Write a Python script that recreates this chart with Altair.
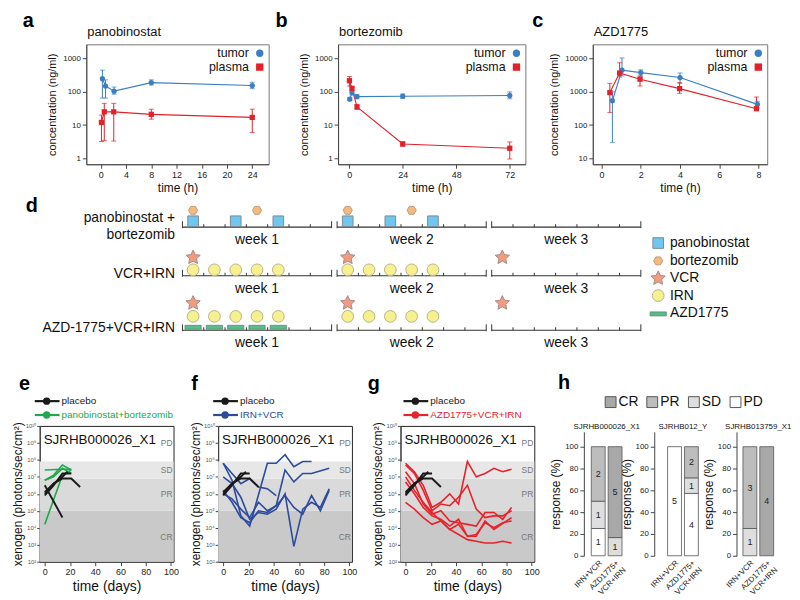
import math
import altair as alt
import pandas as pd

FONT = "Liberation Sans"
BLUE = "#3b7fc3"
RED = "#e3212b"

# ---------------- panels a-c : pharmacokinetics ----------------
pano_tumor_time = [0.25, 0.75, 2.1, 8, 24]
pano_tumor_conc = [250, 150, 105, 190, 155]
pano_tumor_low = [65, 65, 85, 160, 125]
pano_tumor_high = [450, 230, 140, 230, 195]
pano_plasma_time = [0.1, 0.55, 2.05, 8, 24]
pano_plasma_conc = [12, 25, 25, 21, 17]
pano_plasma_low = [3.2, 3.4, 3.3, 15, 6]
pano_plasma_high = [20, 45, 45, 30, 30]

bort_tumor_time = [0.25, 1.25, 3.5, 24, 72]
bort_tumor_conc = [60, 95, 72, 74, 78]
bort_tumor_low = [55, 80, 62, 63, 62]
bort_tumor_high = [68, 110, 82, 86, 100]
bort_plasma_time = [0.1, 1.25, 3.5, 24, 72]
bort_plasma_conc = [217, 128, 35, 2.7, 2.0]
bort_plasma_low = [150, 110, 30, 2.3, 0.95]
bort_plasma_high = [290, 140, 42, 3.1, 3.1]

azd_tumor_time = [0.55, 1.04, 2.0, 4.0, 7.95]
azd_tumor_conc = [540, 4500, 3800, 2700, 420]
azd_tumor_low = [30, 3000, 3000, 1800, 330]
azd_tumor_high = [1000, 10500, 4600, 3700, 520]
azd_plasma_time = [0.42, 0.92, 1.96, 3.98, 7.9]
azd_plasma_conc = [950, 3700, 2400, 1250, 310]
azd_plasma_low = [240, 2800, 1500, 900, 290]
azd_plasma_high = [1800, 7500, 3000, 1900, 700]

pk_groups = ["tumor", "plasma"]

# ---------------- panel d : schedules (1-based day of 21) ----------------
sched_row_labels = [["panobinostat +", "bortezomib"], ["VCR+IRN"], ["AZD-1775+VCR+IRN"]]
week_labels = ["week 1", "week 2", "week 3"]
pb_panobinostat_days = [1, 3, 5, 8, 10, 12]
pb_bortezomib_days = [1, 4, 8, 11]
vi_vcr_days = [1, 8, 15]
vi_irn_days = [1, 2, 3, 4, 5, 8, 9, 10, 11, 12]
avi_vcr_days = [1, 8, 15]
avi_irn_days = [1, 2, 3, 4, 5, 8, 9, 10, 11, 12]
avi_azd_days = [1, 2, 3, 4, 5]
drug_legend = ["panobinostat", "bortezomib", "VCR", "IRN", "AZD1775"]

# ---------------- panels e-g : xenogen signal (log10 photons/sec/cm2) ----------------
model_name = "SJRHB000026_X1"
placebo_days = [[0, 7, 14, 21], [0, 7, 14, 21, 28], [0, 7, 14, 18], [0, 14]]
placebo_log = [[5.9, 6.5, 7.2, 7.2], [6.1, 6.6, 6.9, 6.9, 6.4], [6.0, 6.6, 7.0, 7.3], [6.5, 4.6]]

pb_days = [[0, 14, 21], [0, 7, 14, 21], [0, 14, 21], [0, 7, 14, 21]]
pb_log = [[4.2, 7.1, 7.4], [6.8, 7.1, 7.7, 7.4], [7.4, 7.45, 7.45], [6.8, 7.0, 7.5, 7.2]]

iv_days = [[0, 7, 14, 21, 28, 35, 42],
           [0, 7, 14, 21, 35, 42, 49, 56, 63, 70],
           [0, 7, 14, 21, 28, 35, 42, 49, 56, 63, 70, 77, 84],
           [0, 7, 14, 21, 28, 35, 42, 49, 56, 63, 70, 84],
           [0, 7, 14, 21, 28, 35, 42, 49, 56, 63, 70, 77, 84]]
iv_log = [[7.8, 7.2, 6.6, 6.9, 6.4, 6.3, 5.9],
          [7.8, 6.8, 4.7, 4.1, 7.8, 7.8, 8.3, 7.6, 7.9, 7.9],
          [7.0, 6.6, 5.8, 4.5, 4.9, 4.8, 5.1, 6.0, 2.9, 5.1, 5.5, 5.2, 6.3],
          [6.2, 5.5, 4.6, 4.3, 5.0, 4.9, 5.3, 7.4, 6.7, 7.2, 7.2, 7.5],
          [6.0, 5.7, 5.1, 4.6, 5.5, 5.0, 5.3, 5.9, 5.2, 4.8, 5.9, 5.0, 6.2]]

avi_days = [[0, 7, 14, 21, 28, 35, 42, 49, 56, 63, 70, 77, 84]] * 5 + [[0, 7, 14, 21, 28, 35, 42, 49, 56, 63, 70, 84]]
avi_log = [[7.8, 7.3, 6.5, 5.2, 5.5, 6.0, 5.4, 7.9, 7.0, 7.2, 7.5, 7.3, 7.45],
           [7.7, 7.2, 6.2, 5.0, 5.4, 5.3, 5.8, 6.5, 5.1, 4.6, 4.7, 4.7, 5.0],
           [7.3, 6.6, 5.4, 4.8, 5.0, 4.4, 4.3, 4.2, 4.1, 4.9, 4.9, 4.5, 5.2],
           [5.5, 5.1, 4.6, 4.2, 4.4, 3.9, 4.2, 3.5, 3.6, 4.3, 4.0, 4.3, 4.4],
           [7.0, 6.2, 5.5, 4.9, 4.4, 3.9, 3.6, 3.3, 3.2, 3.1, 3.1, 3.2, 3.1],
           [6.7, 6.0, 5.2, 4.7, 4.5, 4.1, 4.5, 3.5, 3.5, 4.4, 3.9, 4.6]]

band_names = ["CR", "PR", "SD"]
band_low = [1e2, 1e5, 8e6]
band_high = [1e5, 8e6, 8e7]
band_label_names = ["PD", "SD", "PR", "CR"]
band_label_at = [1e9, 2.5e7, 1e6, 3e3]

# ---------------- panel h : responses (counts in order CR, PR, SD, PD) ----------------
resp_categories = ["CR", "PR", "SD", "PD"]
resp_models = ["SJRHB000026_X1", "SJRHB012_Y", "SJRHB013759_X1"]
resp_treatments = ["IRN+VCR", "AZD1775+VCR+IRN"]
resp_irn_vcr = [[0, 2, 1, 1], [0, 0, 0, 5], [0, 3, 1, 0]]
resp_azd = [[5, 0, 1, 0], [0, 2, 1, 4], [4, 0, 0, 0]]

ONE = pd.DataFrame({"k": [0]})
LETTER_SIZE = 20


def const_text(s, x, y, **kw):
    return alt.Chart(pd.DataFrame({"s": [s]})).mark_text(font=FONT, **kw).encode(
        text="s:N", x=alt.value(x), y=alt.value(y))


def letter(ch, x, y, baseline="alphabetic"):
    return const_text(ch, x, y, align="left", baseline=baseline, fontSize=LETTER_SIZE,
                      fontWeight="bold", color="black")


def spacer(w):
    return alt.Chart(ONE).mark_point(opacity=0, size=1).encode(
        x=alt.value(0), y=alt.value(0)).properties(width=w, height=1, view={"stroke": None})


# ======================= a-c =======================
def pk_chart(let, let_x, title, series, xdom, xticks, ydom, yticks, w, h=121):
    frames = []
    for grp, (t, v, lo, hi) in zip(pk_groups, series):
        frames.append(pd.DataFrame({"group": grp, "t": t, "v": v, "lo": lo, "hi": hi}))
    df = pd.concat(frames, ignore_index=True)
    xs = alt.Scale(domain=xdom, nice=False, zero=False)
    ys = alt.Scale(type="log", domain=ydom, nice=False)

    def X(f):
        return alt.X(f"{f}:Q", scale=xs, axis=alt.Axis(values=xticks, title="time (h)", grid=False, format="d",
                                                      labelFontSize=9, titleFontSize=12, tickSize=4,
                                                      titlePadding=3))

    def Y(f):
        return alt.Y(f"{f}:Q", scale=ys, axis=alt.Axis(values=yticks, title="concentration (ng/ml)", grid=False,
                                                      format="d", labelFontSize=8, titleFontSize=11,
                                                      tickSize=4, titlePadding=5))

    C = alt.Color("group:N", scale=alt.Scale(domain=pk_groups, range=[BLUE, RED]), legend=None)
    S = alt.Shape("group:N", scale=alt.Scale(domain=pk_groups, range=["circle", "square"]), legend=None)
    base = alt.Chart(df)
    layers = [
        base.mark_rule(strokeWidth=1).encode(x=X("t"), y=Y("lo"), y2="hi:Q", color=C),
        base.mark_tick(orient="horizontal", size=5, thickness=1).encode(x=X("t"), y=Y("lo"), color=C),
        base.mark_tick(orient="horizontal", size=5, thickness=1).encode(x=X("t"), y=Y("hi"), color=C),
        base.mark_line(strokeWidth=1.1).encode(x=X("t"), y=Y("v"), color=C),
        base.mark_point(filled=True, size=28, opacity=1).encode(x=X("t"), y=Y("v"), color=C, shape=S),
    ]
    for i, (lab, col, shp) in enumerate(zip(pk_groups, [BLUE, RED], ["circle", "square"])):
        layers.append(const_text(lab, w - 20, 9 + 14 * i, align="right", baseline="middle",
                                 fontSize=12.5, color="#111"))
        layers.append(alt.Chart(ONE).mark_point(shape=shp, filled=True, color=col, size=55, opacity=1)
                      .encode(x=alt.value(w - 9), y=alt.value(9 + 14 * i)))
    layers.append(const_text(title, 1, -8, align="left", baseline="alphabetic", fontSize=13, color="#111"))
    layers.append(letter(let, let_x, -33, baseline="top"))
    return alt.layer(*layers).properties(width=w, height=h, view={"stroke": "#777", "strokeWidth": 1})


pa = pk_chart("a", -64, "panobinostat",
              [(pano_tumor_time, pano_tumor_conc, pano_tumor_low, pano_tumor_high),
               (pano_plasma_time, pano_plasma_conc, pano_plasma_low, pano_plasma_high)],
              [-2.3, 26.6], [0, 4, 8, 12, 16, 20, 24], [0.66, 2700], [1, 10, 100, 1000], 184)
pb = pk_chart("b", -63, "bortezomib",
              [(bort_tumor_time, bort_tumor_conc, bort_tumor_low, bort_tumor_high),
               (bort_plasma_time, bort_plasma_conc, bort_plasma_low, bort_plasma_high)],
              [-5, 79], [0, 24, 48, 72], [0.66, 2700], [1, 10, 100, 1000], 189)
pc = pk_chart("c", -61, "AZD1775",
              [(azd_tumor_time, azd_tumor_conc, azd_tumor_low, azd_tumor_high),
               (azd_plasma_time, azd_plasma_conc, azd_plasma_low, azd_plasma_high)],
              [-0.45, 8.45], [0, 2, 4, 6, 8], [6.6, 27000], [10, 100, 1000, 10000], 176)
row1 = alt.hconcat(spacer(8), pa, pb, pc, spacing=5).resolve_scale(color="independent", shape="independent")

# ======================= d =======================
DAY_PX = 21.5
WEEK_GAP = 0.256
D_W = 780
D_TOP = 194.5
D_H = 181
W1_X = 183
d_x0 = -(W1_X - 8) / DAY_PX
d_x1 = d_x0 + D_W / DAY_PX
DXS = alt.Scale(domain=[d_x0, d_x1], nice=False, zero=False)
DYS = alt.Scale(domain=[0, D_H], nice=False, zero=False, reverse=True)


def DX(f):
    return alt.X(f"{f}:Q", scale=DXS, axis=None)


def DY(f):
    return alt.Y(f"{f}:Q", scale=DYS, axis=None)


def wstart(w):
    return w * (7 + WEEK_GAP)


def dayx(day):
    w, k = divmod(day - 1, 7)
    return wstart(w) + k + 0.5


def loc(page_y):
    return page_y - D_TOP


row_base = [loc(228), loc(277), loc(332)]


def star_path(n=5, r_in=0.48):
    pts = []
    for i in range(2 * n):
        r = 1.0 if i % 2 == 0 else r_in
        a = -math.pi / 2 + i * math.pi / n
        pts.append((r * math.cos(a), r * math.sin(a) + 0.08))
    return "M" + " L".join(f"{x:.3f},{y:.3f}" for x, y in pts) + " Z"


def hex_path():
    pts = [(math.cos(math.pi / 3 * i), math.sin(math.pi / 3 * i)) for i in range(6)]
    return "M" + " L".join(f"{x:.3f},{y:.3f}" for x, y in pts) + " Z"


STAR = star_path()
HEX = hex_path()
SYM = {
    "panobinostat": dict(shape="square", fill="#6fc7ef", stroke="#7d8a96", size=115),
    "bortezomib": dict(shape=HEX, fill="#f5b97c", stroke="#b99b80", size=85),
    "VCR": dict(shape=STAR, fill="#f29b80", stroke="#a88c84", size=230),
    "IRN": dict(shape="circle", fill="#f7f08e", stroke="#b8b38c", size=140),
}

sym_rows = []
for d in pb_panobinostat_days:
    sym_rows.append(dict(kind="panobinostat", x=dayx(d), y=row_base[0] - 6))
for d in pb_bortezomib_days:
    sym_rows.append(dict(kind="bortezomib", x=dayx(d), y=row_base[0] - 17))
for d in vi_vcr_days:
    sym_rows.append(dict(kind="VCR", x=dayx(d), y=row_base[1] - 19))
for d in vi_irn_days:
    sym_rows.append(dict(kind="IRN", x=dayx(d), y=row_base[1] - 6))
for d in avi_vcr_days:
    sym_rows.append(dict(kind="VCR", x=dayx(d), y=row_base[2] - 28))
for d in avi_irn_days:
    sym_rows.append(dict(kind="IRN", x=dayx(d), y=row_base[2] - 14))
leg_x = (663 - W1_X) / DAY_PX
leg_y = [loc(244), loc(262), loc(279), loc(297), loc(315)]
for name, yy in zip(drug_legend[:4], leg_y[:4]):
    sym_rows.append(dict(kind=name, x=leg_x, y=yy))
sym_df = pd.DataFrame(sym_rows)

d_layers = []
base_rows, tick_rows = [], []
for rb in row_base:
    for w in range(3):
        base_rows.append(dict(x0=wstart(w), x1=wstart(w) + 7, y=rb))
        for k in range(8):
            top = rb - 6 if k in (0, 7) else rb - 3
            tick_rows.append(dict(x=wstart(w) + k, y0=top, y1=rb + (1 if k in (0, 7) else 0)))
d_layers.append(alt.Chart(pd.DataFrame(base_rows)).mark_rule(color="#333", strokeWidth=1.2)
                .encode(x=DX("x0"), x2="x1:Q", y=DY("y")))
d_layers.append(alt.Chart(pd.DataFrame(tick_rows)).mark_rule(color="#333", strokeWidth=1)
                .encode(x=DX("x"), y=DY("y0"), y2="y1:Q"))
bar_rows = [dict(x0=dayx(d) - 0.38, x1=dayx(d) + 0.38, y0=row_base[2] - 5, y1=row_base[2] - 1)
            for d in avi_azd_days]
bar_rows.append(dict(x0=leg_x - 0.38, x1=leg_x + 0.38, y0=leg_y[4] - 1.5, y1=leg_y[4] + 2.5))
d_layers.append(alt.Chart(pd.DataFrame(bar_rows)).mark_rect(fill="#5fb98d", stroke="#4e8d6d", strokeWidth=0.8)
                .encode(x=DX("x0"), x2="x1:Q", y=DY("y0"), y2="y1:Q"))
for kind, st in SYM.items():
    d_layers.append(alt.Chart(sym_df[sym_df.kind == kind]).mark_point(
        shape=st["shape"], filled=True, fill=st["fill"], stroke=st["stroke"], strokeWidth=1,
        size=st["size"], opacity=1).encode(x=DX("x"), y=DY("y")))
txt_rows = []
for i, rb in enumerate(row_base):
    for w in range(3):
        txt_rows.append(dict(s=week_labels[w], x=wstart(w) + 3.5, y=rb + 13, a="center"))
txt_rows.append(dict(s=sched_row_labels[0][0], x=-0.35, y=loc(219), a="right"))
txt_rows.append(dict(s=sched_row_labels[0][1], x=-0.35, y=loc(236), a="right"))
txt_rows.append(dict(s=sched_row_labels[1][0], x=-0.35, y=row_base[1] - 2, a="right"))
txt_rows.append(dict(s=sched_row_labels[2][0], x=-0.35, y=row_base[2] - 2, a="right"))
for name, yy in zip(drug_legend, leg_y):
    txt_rows.append(dict(s=name, x=leg_x + 0.55, y=yy, a="left"))
txt_df = pd.DataFrame(txt_rows)
for al in ["left", "center", "right"]:
    d_layers.append(alt.Chart(txt_df[txt_df.a == al]).mark_text(
        font=FONT, fontSize=14, align=al, baseline="middle", color="#111")
        .encode(x=DX("x"), y=DY("y"), text="s:N"))
d_layers.append(letter("d", 17, loc(213)))
panel_d = alt.layer(*d_layers).properties(width=D_W, height=D_H, view={"stroke": None})

# ======================= e-g =======================
XENO_W = 135
XENO_H = 137
XS = alt.Scale(domain=[-4, 102], nice=False, zero=False)
YS = alt.Scale(type="log", domain=[1e2, 1e10], nice=False)
SUP = ["10²", "10³", "10⁴", "10⁵", "10⁶", "10⁷", "10⁸", "10⁹", "10¹⁰"]
LABEL_EXPR = "[" + ",".join(f"'{s}'" for s in SUP) + "][round(log(datum.value)/LN10) - 2]"


def XX(f):
    return alt.X(f"{f}:Q", scale=XS, axis=alt.Axis(values=[0, 20, 40, 60, 80, 100], title="time (days)",
                                                  grid=False, labelFontSize=9, titleFontSize=14, tickSize=4,
                                                  titlePadding=3))


def XY(f):
    return alt.Y(f"{f}:Q", scale=YS, axis=alt.Axis(values=[10 ** k for k in range(2, 11)], labelExpr=LABEL_EXPR,
                                                  title="xenogen (photons/sec/cm²)", grid=False, labelFontSize=6,
                                                  labelColor="#555", titleFontSize=12, tickSize=3,
                                                  labelPadding=1, titlePadding=1))


BAND_COL = {"CR": "#c9c9c9", "PR": "#dadada", "SD": "#e7e7e7"}


def xeno_chart(let, let_x, treat, tcol, tdays, tlogs, n_placebo, leg_x0):
    rows = []
    for i, (ds, ls) in enumerate(zip(tdays, tlogs)):
        for d, l in zip(ds, ls):
            rows.append(dict(id=f"t{i}", group=treat, day=d, flux=10 ** l))
    for i, (ds, ls) in enumerate(zip(placebo_days[:n_placebo], placebo_log[:n_placebo])):
        for d, l in zip(ds, ls):
            rows.append(dict(id=f"p{i}", group="placebo", day=d, flux=10 ** l))
    df = pd.DataFrame(rows)
    C = alt.Color("group:N", scale=alt.Scale(domain=["placebo", treat], range=["#1a1a1a", tcol]), legend=None)
    bands = pd.DataFrame({"band": band_names, "lo": band_low, "hi": band_high})
    layers = []
    for b in band_names:
        layers.append(alt.Chart(bands[bands.band == b]).mark_rect(color=BAND_COL[b]).encode(
            x=alt.value(0), x2=alt.value(XENO_W), y=XY("lo"), y2="hi:Q"))
    layers.append(alt.Chart(pd.DataFrame({"s": band_label_names, "pos": band_label_at})).mark_text(
        font=FONT, fontSize=8.5, align="right", baseline="middle", color="#777").encode(
        x=alt.value(XENO_W - 1), y=XY("pos"), text="s:N"))
    layers.append(alt.Chart(df[df.group == treat]).mark_line(strokeWidth=1.6).encode(
        x=XX("day"), y=XY("flux"), detail="id:N", color=C))
    layers.append(alt.Chart(df[df.group == "placebo"]).mark_line(strokeWidth=1.9).encode(
        x=XX("day"), y=XY("flux"), detail="id:N", color=C))
    layers.append(const_text(model_name, 4, 14, align="left", baseline="middle", fontSize=13.5, color="#111"))
    for i, (lab, col) in enumerate([("placebo", "#1a1a1a"), (treat, tcol)]):
        yv = -25 + 14 * i
        layers.append(alt.Chart(ONE).mark_rule(color=col, strokeWidth=2.2).encode(
            x=alt.value(leg_x0), x2=alt.value(leg_x0 + 25), y=alt.value(yv)))
        layers.append(alt.Chart(ONE).mark_circle(color=col, size=55, opacity=1).encode(
            x=alt.value(leg_x0 + 12), y=alt.value(yv)))
        layers.append(const_text(lab, leg_x0 + 27, yv, align="left", baseline="middle", fontSize=10, color=col))
    layers.append(letter(let, let_x, -36))
    return alt.layer(*layers).properties(width=XENO_W, height=XENO_H,
                                         view={"stroke": "#222", "strokeWidth": 1})


pe = xeno_chart("e", -21, "panobinostat+bortezomib", "#22a84c", pb_days, pb_log, 4, -5)
pf = xeno_chart("f", -27, "IRN+VCR", "#2c4b9d", iv_days, iv_log, 3, -5)
pg = xeno_chart("g", -33, "AZD1775+VCR+IRN", "#e8222b", avi_days, avi_log, 3, 3)

# ======================= h =======================
RESP_SCALE = alt.Scale(domain=resp_categories, range=["#a8a8a8", "#bdbdbd", "#dedede", "#ffffff"])
STACK_ORDER = ["PD", "SD", "PR", "CR"]
H_WIDTHS = [46, 58, 44]
H_SPACING = 25
H_H = 125
BAR_STEP = 17
LAB_EXPR = f"datum.value == '{resp_treatments[1]}' ? ['AZD1775+', 'VCR+IRN'] : datum.value"


def resp_chart(irn, azd, w):
    rows = []
    for treat, counts in zip(resp_treatments, [irn, azd]):
        total = sum(counts)
        y0 = 0.0
        for cat in STACK_ORDER:
            n = counts[resp_categories.index(cat)]
            if n == 0:
                continue
            pct = 100.0 * n / total
            rows.append(dict(treat=treat, cat=cat, n=n, y0=y0, y1=y0 + pct, mid=y0 + pct / 2))
            y0 += pct
    df = pd.DataFrame(rows)
    p_in = 3 / BAR_STEP
    p_out = (w / BAR_STEP - (2 - p_in)) / 2
    X = alt.X("treat:N", sort=resp_treatments,
              scale=alt.Scale(domain=resp_treatments, paddingInner=p_in, paddingOuter=p_out),
              axis=alt.Axis(title=None, labelAngle=315, labelExpr=LAB_EXPR, labelFontSize=8, ticks=False,
                            domain=False, labelPadding=3, labelColor="#222"))

    def Y(f):
        return alt.Y(f"{f}:Q", scale=alt.Scale(domain=[0, 113.6], nice=False, zero=True),
                     axis=alt.Axis(values=[0, 20, 40, 60, 80, 100], title="response (%)", grid=False,
                                   labelFontSize=8, titleFontSize=12, tickSize=4, titlePadding=2))

    bars = alt.Chart(df).mark_bar(stroke="#555", strokeWidth=0.8).encode(
        x=X, y=Y("y0"), y2="y1:Q", color=alt.Color("cat:N", scale=RESP_SCALE, legend=None))
    txt = alt.Chart(df).mark_text(font=FONT, fontSize=9, color="#222").encode(
        x=X, y=Y("mid"), text="n:Q")
    return alt.layer(bars, txt).properties(width=w, height=H_H, view={"stroke": None})


h_subs = [resp_chart(a, b, w) for a, b, w in zip(resp_irn_vcr, resp_azd, H_WIDTHS)]
h_bars = alt.hconcat(*h_subs, spacing=H_SPACING, bounds="flush").resolve_scale(color="independent")

h_origins = [0, H_WIDTHS[0] + H_SPACING, H_WIDTHS[0] + H_WIDTHS[1] + 2 * H_SPACING]
HL_H = 6
hl_layers = [letter("h", -26, -37)]
leg_df = pd.DataFrame({"cat": resp_categories, "idx": [0, 1, 2, 3]})
HL_STEP = 42
HL_X0 = 27
HLX = alt.X("idx:Q", scale=alt.Scale(domain=[-HL_X0 / HL_STEP, (H_WIDTHS[0] - HL_X0) / HL_STEP],
                                      nice=False, zero=False), axis=None)
hl_layers.append(alt.Chart(leg_df).mark_square(size=120, stroke="#555", strokeWidth=1, opacity=1).encode(
    x=HLX, y=alt.value(-24), color=alt.Color("cat:N", scale=RESP_SCALE, legend=None)))
hl_layers.append(alt.Chart(leg_df).mark_text(font=FONT, fontSize=14, align="left", baseline="middle", dx=8,
                                             color="#111").encode(x=HLX, y=alt.value(-24), text="cat:N"))
for m, o, w in zip(resp_models, h_origins, H_WIDTHS):
    hl_layers.append(const_text(m, o + w / 2, 3, align="center", baseline="alphabetic", fontSize=8,
                                color="#111"))
h_head = alt.layer(*hl_layers).properties(width=H_WIDTHS[0], height=HL_H, view={"stroke": None})

h_block = alt.vconcat(h_head, h_bars, spacing=0).resolve_scale(color="independent")

inner3 = alt.hconcat(pe, pf, pg, h_block, spacing=9).resolve_scale(color="independent")
row3 = alt.hconcat(spacer(1), inner3, spacing=0).resolve_scale(color="independent")

chart = alt.vconcat(row1, panel_d, row3, spacing=0).resolve_scale(
    color="independent", shape="independent").properties(
    padding={"left": 0, "top": 0, "right": 0, "bottom": 0}
).configure_view(stroke=None).configure_axis(
    labelFont=FONT, titleFont=FONT, labelColor="#222", titleColor="#111", domainColor="#444",
    tickColor="#444", titleFontWeight="normal"
)

chart.save("out.html", embed_options={"renderer": "svg", "actions": False})
